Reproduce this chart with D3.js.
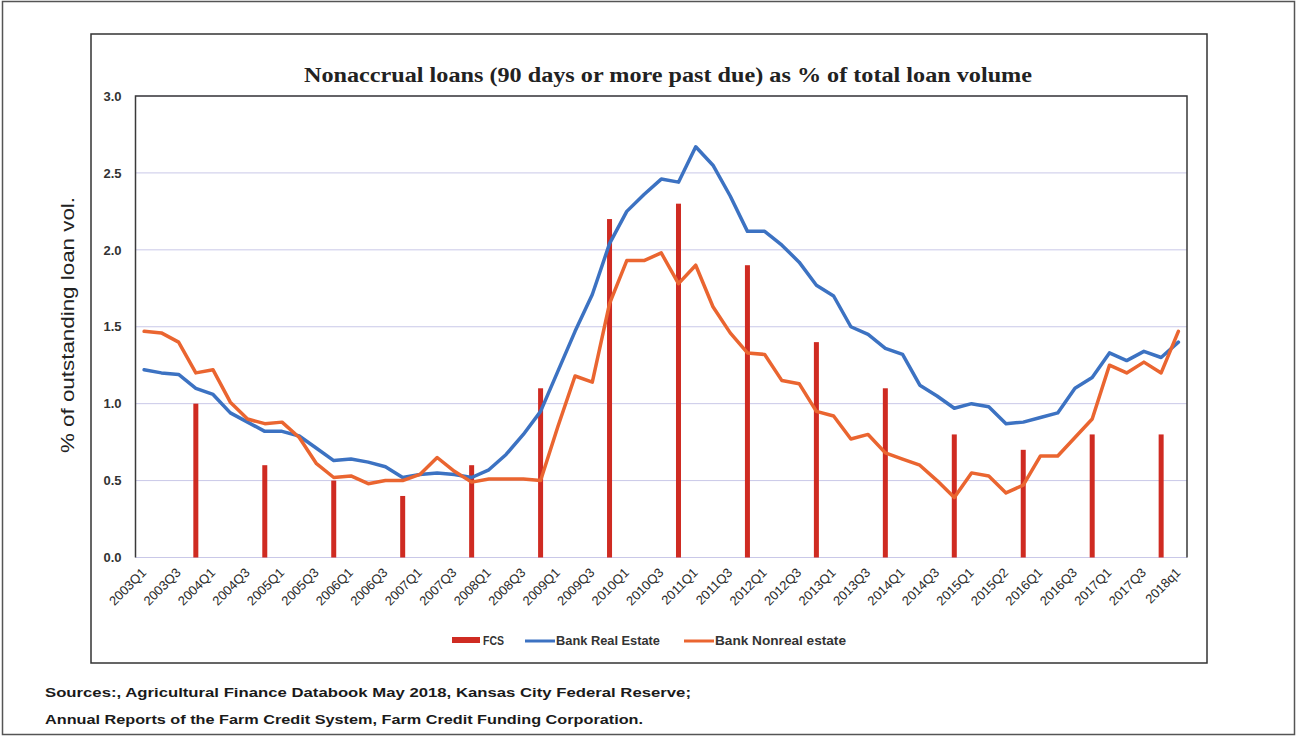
<!DOCTYPE html>
<html>
<head>
<meta charset="utf-8">
<script src="https://cdn.jsdelivr.net/npm/d3@7"></script>
<style>
  html, body { margin: 0; padding: 0; background: #ffffff; }
  svg { display: block; }
</style>
</head>
<body>
<svg id="chart" width="1297" height="738"></svg>
<script>
// Quarterly categories on the x axis
const quarters = [
  "2003Q1","2003Q2","2003Q3","2003Q4","2004Q1","2004Q2","2004Q3","2004Q4",
  "2005Q1","2005Q2","2005Q3","2005Q4","2006Q1","2006Q2","2006Q3","2006Q4",
  "2007Q1","2007Q2","2007Q3","2007Q4","2008Q1","2008Q2","2008Q3","2008Q4",
  "2009Q1","2009Q2","2009Q3","2009Q4","2010Q1","2010Q2","2010Q3","2010Q4",
  "2011Q1","2011Q2","2011Q3","2011Q4","2012Q1","2012Q2","2012Q3","2012Q4",
  "2013Q1","2013Q2","2013Q3","2013Q4","2014Q1","2014Q2","2014Q3","2014Q4",
  "2015Q1","2015Q2","2015Q3","2015Q4","2016Q1","2016Q2","2016Q3","2016Q4",
  "2017Q1","2017Q2","2017Q3","2017Q4","2018Q1"
];

// Labels printed under every second quarter
const tickLabels = [
  "2003Q1","2003Q3","2004Q1","2004Q3","2005Q1","2005Q3","2006Q1","2006Q3",
  "2007Q1","2007Q3","2008Q1","2008Q3","2009Q1","2009Q3","2010Q1","2010Q3",
  "2011Q1","2011Q3","2012Q1","2012Q3","2013Q1","2013Q3","2014Q1","2014Q3",
  "2015Q1","2015Q2","2016Q1","2016Q3","2017Q1","2017Q3","2018q1"
];

// Bank real estate loans, % nonaccrual
const bankRealEstate = [
  1.22, 1.20, 1.19, 1.10, 1.06, 0.94, 0.88, 0.82,
  0.82, 0.79, 0.71, 0.63, 0.64, 0.62, 0.59, 0.52,
  0.54, 0.55, 0.54, 0.52, 0.57, 0.67, 0.80, 0.95,
  1.21, 1.47, 1.71, 2.04, 2.25, 2.36, 2.46, 2.44,
  2.67, 2.55, 2.35, 2.12, 2.12, 2.03, 1.92, 1.77,
  1.70, 1.50, 1.45, 1.36, 1.32, 1.12, 1.05, 0.97,
  1.00, 0.98, 0.87, 0.88, 0.91, 0.94, 1.10, 1.17,
  1.33, 1.28, 1.34, 1.30, 1.40
];

// Bank non-real-estate farm loans, % nonaccrual
const bankNonrealEstate = [
  1.47, 1.46, 1.40, 1.20, 1.22, 1.01, 0.90, 0.87,
  0.88, 0.78, 0.61, 0.52, 0.53, 0.48, 0.50, 0.50,
  0.54, 0.65, 0.56, 0.49, 0.51, 0.51, 0.51, 0.50,
  0.85, 1.18, 1.14, 1.65, 1.93, 1.93, 1.98, 1.78,
  1.90, 1.63, 1.46, 1.33, 1.32, 1.15, 1.13, 0.95,
  0.92, 0.77, 0.80, 0.68, 0.64, 0.60, 0.50, 0.39,
  0.55, 0.53, 0.42, 0.47, 0.66, 0.66, 0.78, 0.90,
  1.25, 1.20, 1.27, 1.20, 1.47
];

// Farm Credit System, year-end values
const fcsQuarters = [
  "2003Q4","2004Q4","2005Q4","2006Q4","2007Q4","2008Q4","2009Q4","2010Q4",
  "2011Q4","2012Q4","2013Q4","2014Q4","2015Q4","2016Q4","2017Q4"
];
const fcsValues = [1.0, 0.6, 0.5, 0.4, 0.6, 1.1, 2.2, 2.3, 1.9, 1.4, 1.1, 0.8, 0.7, 0.8, 0.8];

const yTicks = [0, 0.5, 1.0, 1.5, 2.0, 2.5, 3.0];

const colors = { fcs: "#cf2b22", realEstate: "#3c72c2", nonreal: "#ea6530" };

const svg = d3.select("#chart");

// Outer frame and the inner chart box
svg.append("rect").attr("x", 2.5).attr("y", 1.5).attr("width", 1292).attr("height", 733)
  .attr("fill", "none").attr("stroke", "#555").attr("stroke-width", 1.5);
svg.append("rect").attr("x", 91).attr("y", 34).attr("width", 1116).attr("height", 629)
  .attr("fill", "none").attr("stroke", "#333").attr("stroke-width", 1.5);

const plot = { left: 135.5, right: 1187, top: 96, bottom: 557.5 };

const x = d3.scaleBand().domain(quarters).range([plot.left, plot.right]).padding(0);
const y = d3.scaleLinear().domain([0, 3]).range([plot.bottom, plot.top]);
const cx = q => x(q) + x.bandwidth() / 2;

// Horizontal gridlines
svg.append("g")
  .selectAll("line")
  .data(yTicks)
  .join("line")
  .attr("x1", plot.left).attr("x2", plot.right)
  .attr("y1", d => y(d)).attr("y2", d => y(d))
  .attr("stroke", "#c9c8e8").attr("stroke-width", 1);

// Plot area frame: left, top and right edges
svg.append("path")
  .attr("d", `M${plot.left},${plot.bottom}V${plot.top}H${plot.right}V${plot.bottom}`)
  .attr("fill", "none").attr("stroke", "#3a3a3a").attr("stroke-width", 1.5);

// Y axis tick labels
const yAxis = d3.axisLeft(y).tickValues(yTicks).tickFormat(d3.format(".1f")).tickSize(0).tickPadding(14);
const yG = svg.append("g").attr("transform", `translate(${plot.left},0)`).call(yAxis);
yG.select(".domain").remove();
yG.selectAll("text")
  .attr("font-family", "'Liberation Sans', Arial, sans-serif")
  .attr("font-size", 13).attr("font-weight", "bold").attr("fill", "#333");

// X axis labels, rotated
const labelQuarters = quarters.filter((q, i) => i % 2 === 0);
const xAxis = d3.axisBottom(x).tickValues(labelQuarters)
  .tickFormat((q, i) => tickLabels[i]).tickSize(0).tickPadding(0);
const xG = svg.append("g").attr("transform", `translate(0,${plot.bottom})`).call(xAxis);
xG.select(".domain").remove();
xG.selectAll("text")
  .attr("font-family", "'Liberation Sans', Arial, sans-serif")
  .attr("font-size", 13).attr("fill", "#2a2a2a")
  .attr("text-anchor", "end")
  .attr("dy", 0)
  .attr("transform", "translate(3,16) rotate(-45)");

// FCS columns
svg.append("g")
  .selectAll("rect")
  .data(fcsQuarters.map((q, i) => ({ q, v: fcsValues[i] })))
  .join("rect")
  .attr("x", d => cx(d.q) - 2.5)
  .attr("width", 5)
  .attr("y", d => y(d.v))
  .attr("height", d => y(0) - y(d.v))
  .attr("fill", colors.fcs);

// Bank lines
const line = d3.line().x((d, i) => cx(quarters[i])).y(d => y(d));
svg.append("path").datum(bankRealEstate).attr("d", line)
  .attr("fill", "none").attr("stroke", colors.realEstate).attr("stroke-width", 3.5)
  .attr("stroke-linejoin", "round").attr("stroke-linecap", "round");
svg.append("path").datum(bankNonrealEstate).attr("d", line)
  .attr("fill", "none").attr("stroke", colors.nonreal).attr("stroke-width", 3.5)
  .attr("stroke-linejoin", "round").attr("stroke-linecap", "round");

// Title
svg.append("text")
  .attr("x", 668).attr("y", 82)
  .attr("text-anchor", "middle")
  .attr("font-family", "'Liberation Serif', 'Times New Roman', serif")
  .attr("font-size", 20).attr("font-weight", "bold").attr("fill", "#222")
  .attr("textLength", 728).attr("lengthAdjust", "spacingAndGlyphs")
  .text("Nonaccrual loans (90 days or more past due) as % of total loan volume");

// Y axis title
svg.append("text")
  .attr("transform", "translate(74,325) rotate(-90)")
  .attr("text-anchor", "middle")
  .attr("font-family", "'Liberation Sans', Arial, sans-serif")
  .attr("font-size", 19).attr("fill", "#222")
  .attr("textLength", 256).attr("lengthAdjust", "spacingAndGlyphs")
  .text("% of outstanding loan vol.");

// Legend
const legend = svg.append("g")
  .attr("font-family", "'Liberation Sans', Arial, sans-serif")
  .attr("font-size", 12).attr("font-weight", "bold").attr("fill", "#333");
legend.append("rect").attr("x", 452).attr("y", 637).attr("width", 28).attr("height", 6).attr("fill", colors.fcs);
legend.append("text").attr("x", 483).attr("y", 645).attr("textLength", 21).attr("lengthAdjust", "spacingAndGlyphs").text("FCS");
legend.append("line").attr("x1", 525).attr("x2", 555).attr("y1", 641).attr("y2", 641)
  .attr("stroke", colors.realEstate).attr("stroke-width", 3);
legend.append("text").attr("x", 556).attr("y", 645).attr("textLength", 104).attr("lengthAdjust", "spacingAndGlyphs").text("Bank Real Estate");
legend.append("line").attr("x1", 684).attr("x2", 714).attr("y1", 641).attr("y2", 641)
  .attr("stroke", colors.nonreal).attr("stroke-width", 3);
legend.append("text").attr("x", 715).attr("y", 645).attr("textLength", 131).attr("lengthAdjust", "spacingAndGlyphs").text("Bank Nonreal estate");

// Source notes
const notes = svg.append("g")
  .attr("font-family", "'Liberation Sans', Arial, sans-serif")
  .attr("font-size", 12.5).attr("font-weight", "bold").attr("fill", "#1a1a1a");
notes.append("text").attr("x", 45).attr("y", 697)
  .attr("textLength", 646).attr("lengthAdjust", "spacingAndGlyphs")
  .text("Sources:, Agricultural Finance Databook May 2018, Kansas City Federal Reserve;");
notes.append("text").attr("x", 45).attr("y", 724)
  .attr("textLength", 598).attr("lengthAdjust", "spacingAndGlyphs")
  .text("Annual Reports of the Farm Credit System, Farm Credit Funding Corporation.");
</script>
</body>
</html>
